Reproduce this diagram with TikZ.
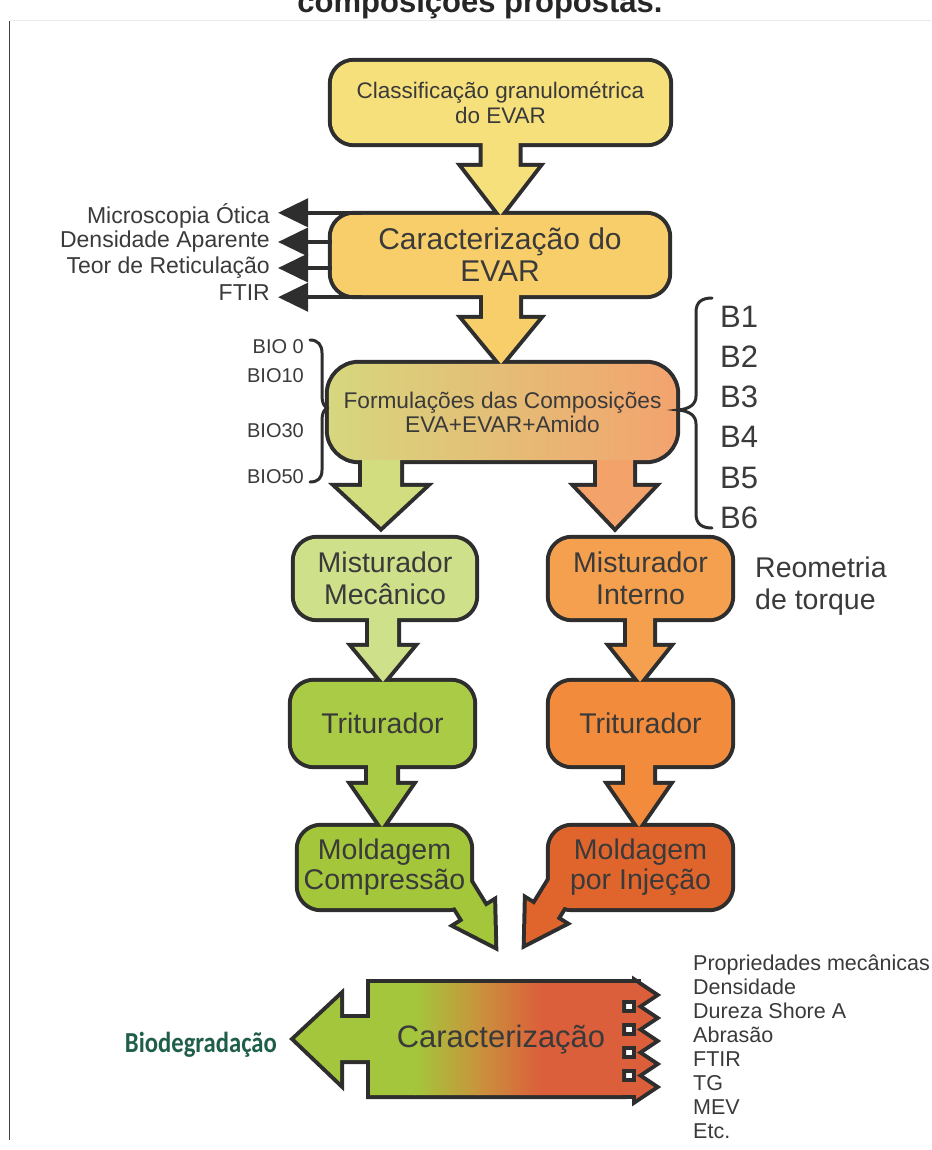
\documentclass[tikz,border=0pt]{standalone}
\usepackage{fontspec}
\setmainfont{Liberation Sans}
\newfontfamily\biofont[FakeStretch=0.85]{Carlito}
\usetikzlibrary{calc,arrows.meta}
\pgfdeclarelayer{outl}
\pgfdeclarelayer{fil}
\pgfsetlayers{outl,fil,main}
\definecolor{oc}{HTML}{2E2E2E}
\definecolor{tc}{HTML}{3A3A3A}
\definecolor{cy1}{HTML}{F6E07C}
\definecolor{cy2}{HTML}{F7CE6A}
\definecolor{c3l}{HTML}{D6D77E}
\definecolor{c3m}{HTML}{EDBF72}
\definecolor{c3r}{HTML}{F3A36E}
\definecolor{a3l}{HTML}{D2DD80}
\definecolor{a3r}{HTML}{F3A26A}
\definecolor{g4}{HTML}{CFE08A}
\definecolor{o4}{HTML}{F5A04F}
\definecolor{g5}{HTML}{A9CB45}
\definecolor{o5}{HTML}{F28B3B}
\definecolor{g6}{HTML}{A4C63B}
\definecolor{o6}{HTML}{E0652C}
\definecolor{cg}{HTML}{A4C63C}
\definecolor{cm}{HTML}{C9933C}
\definecolor{cr}{HTML}{DB5F3B}
\definecolor{biog}{HTML}{1F5E47}
\newcommand\fs[2]{\fontsize{#1}{#2}\selectfont}
\newcommand\boxbg[3][22pt]{%
 \begin{pgfonlayer}{outl}\draw[oc,line width=8pt,rounded corners=#1] (#2.north west) rectangle (#2.south east);\end{pgfonlayer}%
 \begin{pgfonlayer}{fil}\fill[#3,rounded corners=#1] (#2.north west) rectangle (#2.south east);\end{pgfonlayer}}
% #1 from, #2 to, #3 x coordinate, #4 stem half, #5 head half, #6 head length, #7 colour
\newcommand\varr[7]{%
 \coordinate (va0) at #1; \coordinate (vb0) at #2;
 \coordinate (va) at (va0 -| #3); \coordinate (vb) at (vb0 -| #3);
 \def\ap{($(va)+(-#4,-14)$) -- ($(vb)+(-#4,-#6)$) -- ($(vb)+(-#5,-#6)$) -- (vb) -- ($(vb)+(#5,-#6)$) -- ($(vb)+(#4,-#6)$) -- ($(va)+(#4,-14)$) -- cycle}%
 \begin{pgfonlayer}{outl}\draw[oc,line width=8pt] \ap;\end{pgfonlayer}%
 \begin{pgfonlayer}{fil}\fill[#7] \ap;\end{pgfonlayer}}
\begin{document}
\begin{tikzpicture}[x=1pt,y=-1pt,
  box/.style={inner sep=0pt, align=center, text=tc},
  lbl/.style={inner sep=0pt, anchor=east, text=tc, font=\fs{23}{23}},
  lconn/.style={draw=oc, line width=4pt, -{Triangle[length=30pt,width=28pt]}},
  brace/.style={draw=oc, line width=3pt, line cap=round},
  blab/.style={inner sep=0pt, anchor=west, text=tc, font=\fs{31}{31}},
  biol/.style={inner sep=0pt, anchor=east, text=tc, font=\fs{20}{20}}]
\useasboundingbox (0,0) rectangle (931,1150);
% frame lines
\draw[black!75, line width=1.2pt] (9.5,21) -- (9.5,1140);
\draw[black!8, line width=1pt] (9.5,21) -- (931,21);
% title (cut by the page top, as in the reference)
\node[inner sep=0pt, anchor=base, font=\bfseries\fs{31}{31}, text=black!85] (title) at (480,13) {composições propostas.};
% boxes
\node[box, minimum width=337, minimum height=81, font=\fs{22.5}{25}] (b1) at (500.5,102.5) {Classificação granulométrica\\do EVAR};
\node[box, minimum width=336, minimum height=80, font=\fs{30}{32}] (b2) at (500,255) {Caracterização do\\EVAR};
\node[box, minimum width=347, minimum height=96, font=\fs{22.7}{24}] (b3) at (502.5,412) {Formulações das Composições\\EVA+EVAR+Amido};
\node[box, minimum width=180, minimum height=79, font=\fs{28.5}{32}] (b4L) at (385,578.5) {Misturador\\Mecânico};
\node[box, minimum width=181, minimum height=79, font=\fs{28.5}{32}] (b4R) at (640.5,578.5) {Misturador\\Interno};
\node[box, minimum width=181, minimum height=83, font=\fs{28.5}{32}] (b5L) at (382.5,723.5) {Triturador};
\node[box, minimum width=181, minimum height=83, font=\fs{28.5}{32}] (b5R) at (640.5,723.5) {Triturador};
\node[box, minimum width=171, minimum height=81, font=\fs{28.5}{30}] (b6L) at (384.5,867.5) {Moldagem\\Compressão};
\node[box, minimum width=181, minimum height=81, font=\fs{28.5}{30}] (b6R) at (640.5,867.5) {Moldagem\\por Injeção};
\node[box, font=\fs{31}{31}] (cz) at (501,1040) {Caracterização};
% side labels
\node[lbl] (m1) at (270,216) {Microscopia Ótica};
\node[lbl] (m2) at (270,242) {Densidade Aparente};
\node[lbl] (m3) at (270,268) {Teor de Reticulação};
\node[lbl] (m4) at (270,293) {FTIR};
\node[biol] (bio0) at (304,347) {BIO 0};
\node[biol] (bio10) at (304,376) {BIO10};
\node[biol] (bio30) at (304,431) {BIO30};
\node[biol] (bio50) at (304,477) {BIO50};
\node[blab] (B1) at (720,317) {B1};
\node[blab] (B2) at (720,357) {B2};
\node[blab] (B3) at (720,397) {B3};
\node[blab] (B4) at (720,437) {B4};
\node[blab] (B5) at (720,478) {B5};
\node[blab] (B6) at (720,518) {B6};
\node[inner sep=0pt, anchor=west, align=left, text=tc, font=\fs{28.5}{32}] (reo) at (755,586) {Reometria\\de torque};
\node[inner sep=0pt, anchor=west, align=left, text=tc, font=\fs{21.5}{24}] (props) at (693,1047) {Propriedades mecânicas\\Densidade\\Dureza Shore A\\Abrasão\\FTIR\\TG\\MEV\\Etc.};
\node[inner sep=0pt, anchor=east, text=biog, font=\biofont\bfseries\fs{29}{29}] (bio) at (277,1045) {Biodegradação};
% connectors to the side labels
\draw[lconn] ($(b2.north west)+(30,-2)$) -- ($(m1.east |- b2.north)+(8,-2)$);
\draw[lconn] ($(b2.west)+(0,-13)$) -- ($(m2.east |- b2.west)+(8,-13)$);
\draw[lconn] ($(b2.west)+(0,13)$) -- ($(m3.east |- b2.west)+(8,13)$);
\draw[lconn] ($(b2.south west)+(30,2)$) -- ($(m4.east |- b2.south)+(8,2)$);
% braces
\draw[brace] (310,340) .. controls (318,340) and (322,345) .. (322,353) -- (322,396) .. controls (322,403) and (324,406) .. (327,408) .. controls (324,410) and (322,413) .. (322,420) -- (322,470) .. controls (322,478) and (318,482) .. (310,482);
\draw[brace] (712,298) .. controls (702,298) and (696,302) .. (696,312) -- (696,396) .. controls (696,404) and (690,409) .. (678,410) .. controls (690,411) and (696,416) .. (696,424) -- (696,514) .. controls (696,524) and (702,528) .. (712,528);
% block arrows
\coordinate (xA) at (500.5,0);
\coordinate (xB) at (501,0);
\coordinate (xC) at (381,0);
\coordinate (xD) at (615,0);
\coordinate (xE) at (383,0);
\coordinate (xF) at (640,0);
\coordinate (xG) at (382,0);
\coordinate (xH) at (639,0);
\varr{(b1.south)}{(b2.north)}{xA}{18}{37}{48}{cy1}
\varr{(b2.south)}{(b3.north)}{xB}{18}{37}{45}{cy2}
\varr{(b3.south)}{($(b4L.north)+(0,-12)$)}{xC}{19}{43}{40}{a3l}
\varr{(b3.south)}{($(b4R.north)+(0,-12)$)}{xD}{18}{38}{40}{a3r}
\varr{(b4L.south)}{(b5L.north)}{xE}{14}{29}{35}{g4}
\varr{(b4R.south)}{(b5R.north)}{xF}{13}{28}{35}{o4}
\varr{(b5L.south)}{(b6L.north)}{xG}{14}{29}{42}{g5}
\varr{(b5R.south)}{(b6R.north)}{xH}{14}{29}{42}{o5}
% diagonal arrows
\coordinate (tL) at ($(b6L.south east)+(24,37)$);
\coordinate (tR) at ($(b6R.south west)+(-24,35)$);
\def\dl{(tL) -- ++(-1,-43) -- ($(tL)+(-8.6,-38.3)$) -- ($(tL)+(-35,-81)$) -- ($(tL)+(-57,-67)$) -- ($(tL)+(-30.6,-24.5)$) -- ($(tL)+(-38.3,-19.7)$) -- cycle}
\def\dr{(tR) -- ++(1,-43) -- ($(tR)+(8.6,-38.3)$) -- ($(tR)+(35,-81)$) -- ($(tR)+(57,-67)$) -- ($(tR)+(30.6,-24.5)$) -- ($(tR)+(38.3,-19.7)$) -- cycle}
\begin{pgfonlayer}{outl}\draw[oc,line width=8pt] \dl; \draw[oc,line width=8pt] \dr;\end{pgfonlayer}
\begin{pgfonlayer}{fil}\fill[g6] \dl; \fill[o6] \dr;\end{pgfonlayer}
% box backgrounds
\boxbg{b1}{cy1}
\boxbg{b2}{cy2}
\begin{pgfonlayer}{outl}\draw[oc,line width=8pt,rounded corners=30pt] (b3.north west) rectangle (b3.south east);\end{pgfonlayer}
\begin{pgfonlayer}{fil}\shade[left color=c3l,middle color=c3m,right color=c3r,rounded corners=30pt] (b3.north west) rectangle (b3.south east);\end{pgfonlayer}
\boxbg{b4L}{g4}
\boxbg{b4R}{o4}
\boxbg{b5L}{g5}
\boxbg{b5R}{o5}
\boxbg{b6L}{g6}
\boxbg{b6R}{o6}
% bottom characterisation shape
\def\czpath{(370,983) -- (622,983) -- (622,1095) -- (370,1095) -- (370,1060) -- (340,1060) -- (340,1082) -- (295,1039) -- (340,997) -- (340,1018) -- (370,1018) -- cycle}
\begin{pgfonlayer}{outl}\draw[oc,line width=8pt] \czpath;\end{pgfonlayer}
\begin{pgfonlayer}{fil}
\begin{scope}
\clip \czpath;
\fill[cg] (280,970) rectangle (416,1110);
\shade[left color=cg,right color=cm] (415,970) rectangle (479,1110);
\shade[left color=cm,right color=cr] (478,970) rectangle (541,1110);
\fill[cr] (540,970) rectangle (630,1110);
\end{scope}
\end{pgfonlayer}
\foreach \yy/\st/\sb in {995/983/1000, 1018/1013/1023, 1041/1036/1046, 1064/1059/1069, 1087/1082/1095}{
 \begin{pgfonlayer}{outl}
  \draw[oc,line width=8pt] (612,\st) rectangle (637,\sb);
  \draw[oc,line width=8pt] (636,\yy-12) -- (654,\yy) -- (636,\yy+12) -- cycle;
 \end{pgfonlayer}
 \begin{pgfonlayer}{fil}
  \fill[cr] (612,\st) rectangle (637,\sb);
  \fill[cr] (636,\yy-12) -- (654,\yy) -- (636,\yy+12) -- cycle;
 \end{pgfonlayer}
}
\end{tikzpicture}
\end{document}
